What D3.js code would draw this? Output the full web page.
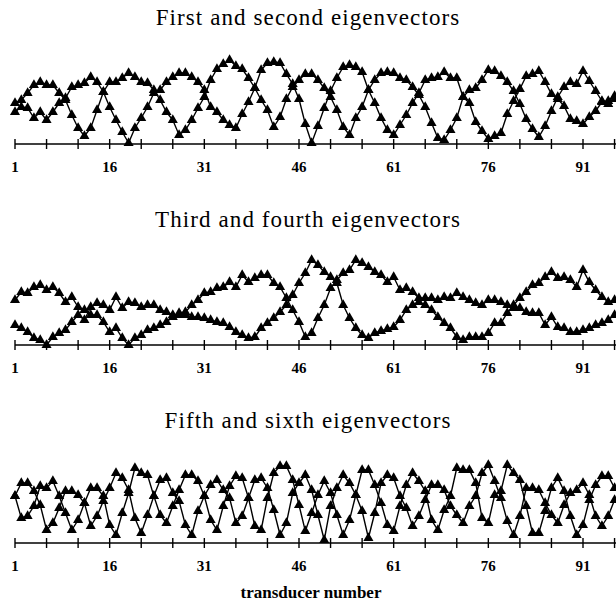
<!DOCTYPE html>
<html>
<head>
<script src="https://d3js.org/d3.v7.min.js"></script>
<style>
  body { margin: 0; background: #fff; }
  text { font-family: "Liberation Serif", "Times New Roman", serif; fill: #000; }
</style>
</head>
<body>
<svg width="616" height="606"></svg>
<script>
// transducer numbers along the x axis
const transducers = d3.range(1, 97);
const tickLabels = [1, 16, 31, 46, 61, 76, 91];
const titles = ['First and second eigenvectors', 'Third and fourth eigenvectors', 'Fifth and sixth eigenvectors'];

// eigenvector amplitudes (arbitrary units, 0 = baseline)
const first = [41,44,51,59,62,59,59,51,44,29, 16,8,16,34,52,62,62,66,71,67,
  62,61,54,44,32,24,9,14,24,36, 47,64,75,80,84,78,75,66,56,44,
  34,17,27,45,57,64,70,70,64,56, 47,34,17,9,26,37,54,64,71,72,
  71,66,64,57,49,37,21,6,4,14, 26,47,54,56,64,74,73,68,62,53,
  40,25,15,7,18,33,47,57,62,60, 73,63,53,43,40,45];
const second = [32,37,36,26,32,24,32,41,46,57, 59,61,67,62,52,37,24,12,1,16,
  26,37,51,54,62,67,71,71,67,62, 54,37,32,24,19,16,30,42,56,74,
  81,82,81,70,60,45,20,1,18,36, 53,66,77,79,77,72,54,41,26,14,
  9,19,29,41,51,64,66,67,72,66, 66,47,41,22,13,5,8,11,30,43,
  55,68,70,73,62,50,45,38,25,23, 20,27,33,42,43,48];
const third = [45,53,52,58,60,55,58,52,43,48, 38,35,30,30,23,13,17,7,0,7,
  10,15,17,20,23,28,32,33,40,45, 52,53,57,58,63,58,70,63,67,70,
  70,62,58,47,35,23,8,12,27,40, 57,65,72,75,85,82,78,73,70,63,
  68,55,57,53,47,47,47,45,48,47, 52,48,45,42,40,45,45,43,40,37,
  37,33,32,32,20,28,18,17,13,13, 15,17,20,22,25,30];
const fourth = [20,17,13,7,5,0,8,12,15,23, 30,25,38,42,40,35,48,37,43,42,
  38,40,40,35,33,30,30,30,28,28, 27,25,23,22,18,13,10,7,8,17,
  22,27,33,40,50,62,72,85,80,73, 68,62,40,27,17,10,7,12,14,16,
  18,25,35,40,43,40,35,28,22,17, 8,5,8,8,8,12,22,22,32,40,
  47,53,60,62,68,73,67,68,65,58, 75,63,55,48,43,45];
const fifth = [47,60,60,52,38,13,20,35,52,52, 48,40,17,27,42,55,70,65,53,25,
  10,28,47,63,65,50,42,18,8,32, 47,58,63,53,45,20,27,45,63,65,
  55,33,8,20,50,60,68,53,28,3, 37,55,68,60,48,32,5,30,60,68,
  65,47,35,17,27,43,58,58,53,37, 28,20,37,47,70,78,62,45,22,8,
  27,55,55,53,40,28,20,38,50,53, 60,48,27,17,27,43];
const sixth = [47,25,27,37,57,55,62,47,30,13, 23,40,55,55,47,18,8,30,50,75,
  70,68,47,28,20,37,53,68,68,62, 47,23,13,37,57,67,65,45,17,13,
  45,70,77,77,63,38,12,30,48,62, 50,28,8,23,48,73,73,58,40,18,
  12,37,58,70,62,52,23,13,33,47, 75,73,73,60,25,20,48,52,78,70,
  63,37,10,10,32,55,65,52,27,8, 18,43,58,67,67,55];

const panels = [
  { title: titles[0], series: [first, second], axisY: 144, titleY: 25 },
  { title: titles[1], series: [third, fourth], axisY: 345, titleY: 227 },
  { title: titles[2], series: [fifth, sixth], axisY: 543, titleY: 428 }
];

const svg = d3.select('svg');
const x = d3.scaleLinear().domain([1, 91]).range([15, 583]);
const y = d3.scaleLinear().domain([0, 90]).range([0, -90]);
const tickVals = transducers.filter(d => (d - 1) % 5 === 0);
const triangle = d3.symbol().type(d3.symbolTriangle).size(44);
const line = d3.line().x((d, i) => x(transducers[i])).y(d => y(d));

panels.forEach(p => {
  svg.append('text')
    .attr('x', 308)
    .attr('y', p.titleY)
    .attr('text-anchor', 'middle')
    .style('font-size', '23px')
    .style('letter-spacing', '1.1px')
    .text(p.title);

  const g = svg.append('g').attr('transform', `translate(0,${p.axisY})`);

  // axis line with ticks above and below
  g.append('line')
    .attr('x1', x(1)).attr('x2', 616)
    .attr('y1', 0).attr('y2', 0)
    .style('stroke', '#000').style('stroke-width', 1.7);
  g.selectAll('line.tick')
    .data(tickVals)
    .enter()
    .append('line')
    .classed('tick', true)
    .attr('x1', d => x(d)).attr('x2', d => x(d))
    .attr('y1', -5).attr('y2', 5)
    .style('stroke', '#000').style('stroke-width', 1.4);
  g.selectAll('text.label')
    .data(tickLabels)
    .enter()
    .append('text')
    .classed('label', true)
    .attr('x', d => x(d))
    .attr('y', 28)
    .attr('text-anchor', 'middle')
    .style('font-size', '15px')
    .style('font-weight', 'bold')
    .text(d => d);

  p.series.forEach(s => {
    g.append('path')
      .datum(s)
      .attr('d', line)
      .style('fill', 'none')
      .style('stroke', '#000')
      .style('stroke-width', 1.4);
    g.selectAll(null)
      .data(s)
      .enter()
      .append('path')
      .attr('d', triangle)
      .attr('transform', (d, i) => `translate(${x(transducers[i])},${y(d)})`)
      .style('fill', '#000');
  });
});

svg.append('text')
  .attr('x', 311)
  .attr('y', 598)
  .attr('text-anchor', 'middle')
  .style('font-size', '17px')
  .style('font-weight', 'bold')
  .text('transducer number');
</script>
</body>
</html>
